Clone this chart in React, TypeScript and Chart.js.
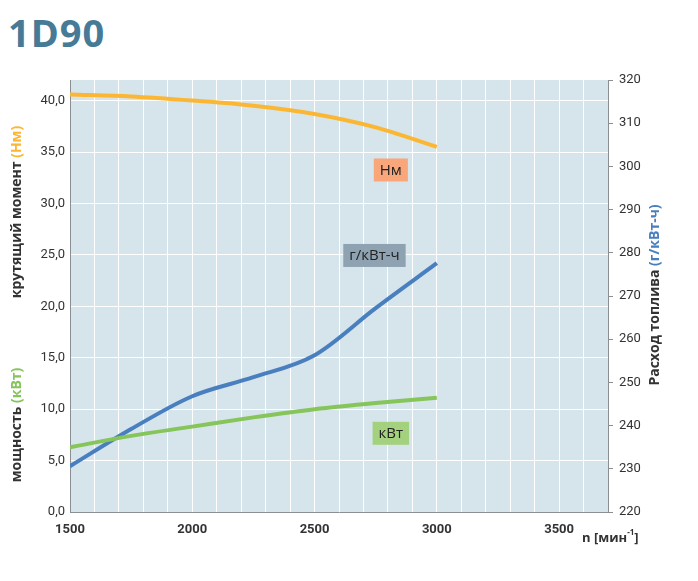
import React, { useEffect, useRef } from "react";
import { Chart, registerables } from "chart.js";
Chart.register(...registerables);

const rpm = [1500, 1750, 2000, 2250, 2500, 2750, 3000];
const torque = [40.6, 40.4, 40.0, 39.5, 38.7, 37.4, 35.5];
const power = [6.3, 7.4, 8.3, 9.2, 10.0, 10.6, 11.1];
const fuel = [230.6, 239.2, 246.8, 251.2, 256.3, 267.2, 277.6];
const xTicks = [1500, 2000, 2500, 3000, 3500];

const TXT = "#333";
const ORANGE = "#fbb733";
const BLUE = "#4a7fbf";
const GREEN = "#86c55a";

const pts = (ys: number[]) => rpm.map((x, i) => ({ x, y: ys[i] }));

function drawParts(ctx: CanvasRenderingContext2D, parts: [string, string][], x: number, y: number, rot: number) {
  ctx.save();
  ctx.translate(x, y);
  ctx.rotate(rot);
  ctx.font = "bold 14px 'Open Sans'";
  const w = parts.reduce((s, p) => s + ctx.measureText(p[0]).width, 0);
  let cx = -w / 2;
  ctx.textBaseline = "middle";
  ctx.textAlign = "left";
  for (const [t, c] of parts) {
    ctx.fillStyle = c;
    ctx.fillText(t, cx, 0);
    cx += ctx.measureText(t).width;
  }
  ctx.restore();
}

const deco = {
  id: "deco",
  beforeDraw(chart: any) {
    const { ctx, chartArea: a } = chart;
    ctx.save();
    ctx.fillStyle = "#d6e4ec";
    ctx.fillRect(a.left, a.top, a.right - a.left, a.bottom - a.top);
    ctx.restore();
  },
  afterDraw(chart: any) {
    const { ctx, scales } = chart;
    const x = scales.x, y = scales.y, y2 = scales.y2;
    const box = (t: string, xv: number, yp: number, bg: string) => {
      ctx.save();
      ctx.font = "15px 'Open Sans'";
      const w = ctx.measureText(t).width + 12;
      const cx = x.getPixelForValue(xv);
      ctx.fillStyle = bg;
      ctx.fillRect(cx - w / 2, yp - 11, w, 23);
      ctx.fillStyle = "#222";
      ctx.textAlign = "center";
      ctx.textBaseline = "middle";
      ctx.fillText(t, cx, yp + 1);
      ctx.restore();
    };
    box("Нм", 2812, y.getPixelForValue(33.3), "#f9a77a");
    box("г/кВт-ч", 2745, y2.getPixelForValue(279.5), "#8fa2b2");
    box("кВт", 2812, y.getPixelForValue(7.7), "#a3d17e");
    drawParts(ctx, [["мощность ", TXT], ["(кВт)", GREEN]], 17, 425, -Math.PI / 2);
    drawParts(ctx, [["крутящий момент ", TXT], ["(Нм)", ORANGE]], 17, 212, -Math.PI / 2);
    drawParts(ctx, [["Расход топлива ", TXT], ["(г/кВт-ч)", BLUE]], 655, 295, -Math.PI / 2);
    ctx.save();
    ctx.font = "bold 13px 'Open Sans'";
    ctx.fillStyle = TXT;
    ctx.textBaseline = "middle";
    ctx.fillText("n [мин", 582, 538);
    const w = ctx.measureText("n [мин").width;
    ctx.font = "bold 8px 'Open Sans'";
    ctx.fillText("-1", 582 + w, 533);
    const w2 = ctx.measureText("-1").width;
    ctx.font = "bold 13px 'Open Sans'";
    ctx.fillText("]", 582 + w + w2, 538);
    ctx.restore();
  },
};

export default function App() {
  const ref = useRef<HTMLCanvasElement>(null);
  useEffect(() => {
    const tickFont = { family: "Roboto", size: 13 };
    const chart = new Chart(ref.current!, {
      type: "line",
      data: {
        datasets: [
          { data: pts(torque), borderColor: ORANGE, yAxisID: "y" },
          { data: pts(power), borderColor: GREEN, yAxisID: "y" },
          { data: pts(fuel), borderColor: BLUE, yAxisID: "y2" },
        ] as any,
      },
      options: {
        animation: false,
        responsive: false,
        layout: { padding: { top: 80, left: 0, right: 0, bottom: 0 } },
        elements: { point: { radius: 0 }, line: { borderWidth: 4, tension: 0.4, cubicInterpolationMode: "monotone" } },
        plugins: { legend: { display: false }, tooltip: { enabled: false } },
        scales: {
          x: {
            type: "linear", min: 1500, max: 3700,
            ticks: { stepSize: 100, autoSkip: false, maxRotation: 0, color: TXT, font: { ...tickFont, weight: "bold" }, padding: 10,
              callback: (v: any) => (xTicks.includes(v) ? String(v) : "") },
            grid: { color: "#ffffff", lineWidth: 1, drawTicks: false },
            border: { color: "#8a8f94" },
            afterFit: (s: any) => { s.height = 69; },
          },
          y: {
            position: "left", min: 0, max: 42,
            ticks: { stepSize: 5, color: TXT, font: tickFont, padding: 5,
              callback: (v: any) => Number(v).toFixed(1).replace(".", ",") },
            afterBuildTicks: (s: any) => { s.ticks = s.ticks.filter((t: any) => t.value <= 40); },
            grid: { color: "#ffffff", lineWidth: 1, drawTicks: false },
            border: { color: "#8a8f94" },
            afterFit: (s: any) => { s.width = 70; },
          },
          y2: {
            position: "right", min: 220, max: 320,
            ticks: { stepSize: 10, color: TXT, font: tickFont, padding: 6 },
            grid: { display: true, drawOnChartArea: false, color: "#8a8f94", tickLength: 5 },
            border: { color: "#8a8f94" },
            afterFit: (s: any) => { s.width = 90; },
          },
        },
      } as any,
      plugins: [deco],
    });
    return () => chart.destroy();
  }, []);
  return (
    <div style={{ position: "absolute", left: 0, top: 0, width: 698, height: 581, background: "#fff" }}>
      <div style={{ position: "absolute", left: 8, top: 6, font: "bold 38px 'Open Sans'", color: "#467a97", letterSpacing: 1 }}>1D90</div>
      <canvas ref={ref} width={698} height={581} style={{ position: "absolute", left: 0, top: 0 }} />
    </div>
  );
}
